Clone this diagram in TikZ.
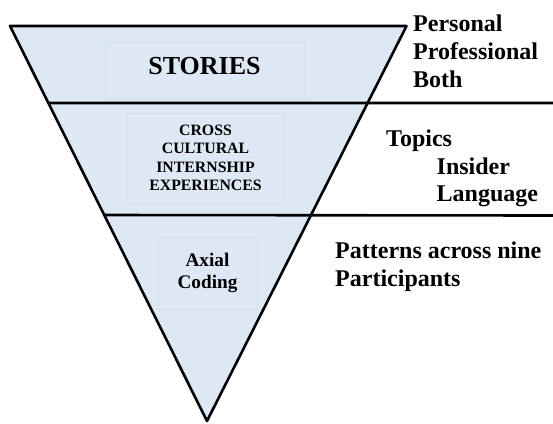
\documentclass[tikz,border=0pt]{standalone}
\usepackage{fontspec}
\setmainfont{Liberation Serif}
\usetikzlibrary{calc}
\definecolor{funnelblue}{HTML}{DEE8F5}
\definecolor{boxline}{HTML}{D3DEEC}
\tikzset{
  inbox/.style={draw=boxline,line width=0.6pt,inner sep=0pt,align=center},
  side/.style={anchor=base west,inner sep=0pt,font=\fontsize{24}{28}\selectfont\bfseries},
  rule/.style={line width=2.6pt},
}
\begin{document}
\begin{tikzpicture}[x=1pt,y=-1pt,line join=round,line cap=round]
  \useasboundingbox (0,0) rectangle (553,423);
  % funnel corners
  \coordinate (tl) at (10,26);
  \coordinate (tr) at (406.5,26);
  \coordinate (apex) at (207,421);
  \fill[funnelblue] (tl)--(tr)--(apex)--cycle;
  % inner boxes
  \node[inbox,minimum width=199,minimum height=56,text depth=9pt,font=\fontsize{26}{30}\selectfont\bfseries]
    (stories) at (204.5,70) {STORIES};
  \node[inbox,minimum width=157,minimum height=90,font=\fontsize{15.8}{18.5}\selectfont\bfseries]
    (cross) at (205.5,158) {CROSS\\CULTURAL\\INTERNSHIP\\EXPERIENCES};
  \node[inbox,minimum width=99,minimum height=72,font=\fontsize{19.2}{22}\selectfont\bfseries]
    (axial) at (207.5,273) {Axial\\Coding};
  % outline and level lines
  \draw[rule] (tl)--(tr)--(apex)--cycle;
  \coordinate (l1) at ($(tl)!0.195!(apex)$);
  \coordinate (r1) at (553,103);
  \coordinate (l2) at ($(tl)!0.4785!(apex)$);
  \coordinate (r2) at (553,215.5);
  \draw[rule] (l1)--(r1);
  \draw[rule] (l2)--(r2);
  % labels at the side
  \node[side] (personal) at (413,31) {Personal};
  \node[side] (professional) at (413,59) {Professional};
  \node[side] (both) at (413,87) {Both};
  \node[side] (topics) at (386,146) {Topics};
  \node[side] (insider) at (436.5,174) {Insider};
  \node[side] (language) at (436.5,201) {Language};
  \node[side] (patterns) at (335,258) {Patterns across nine};
  \node[side] (participants) at (335,286) {Participants};
\end{tikzpicture}
\end{document}
